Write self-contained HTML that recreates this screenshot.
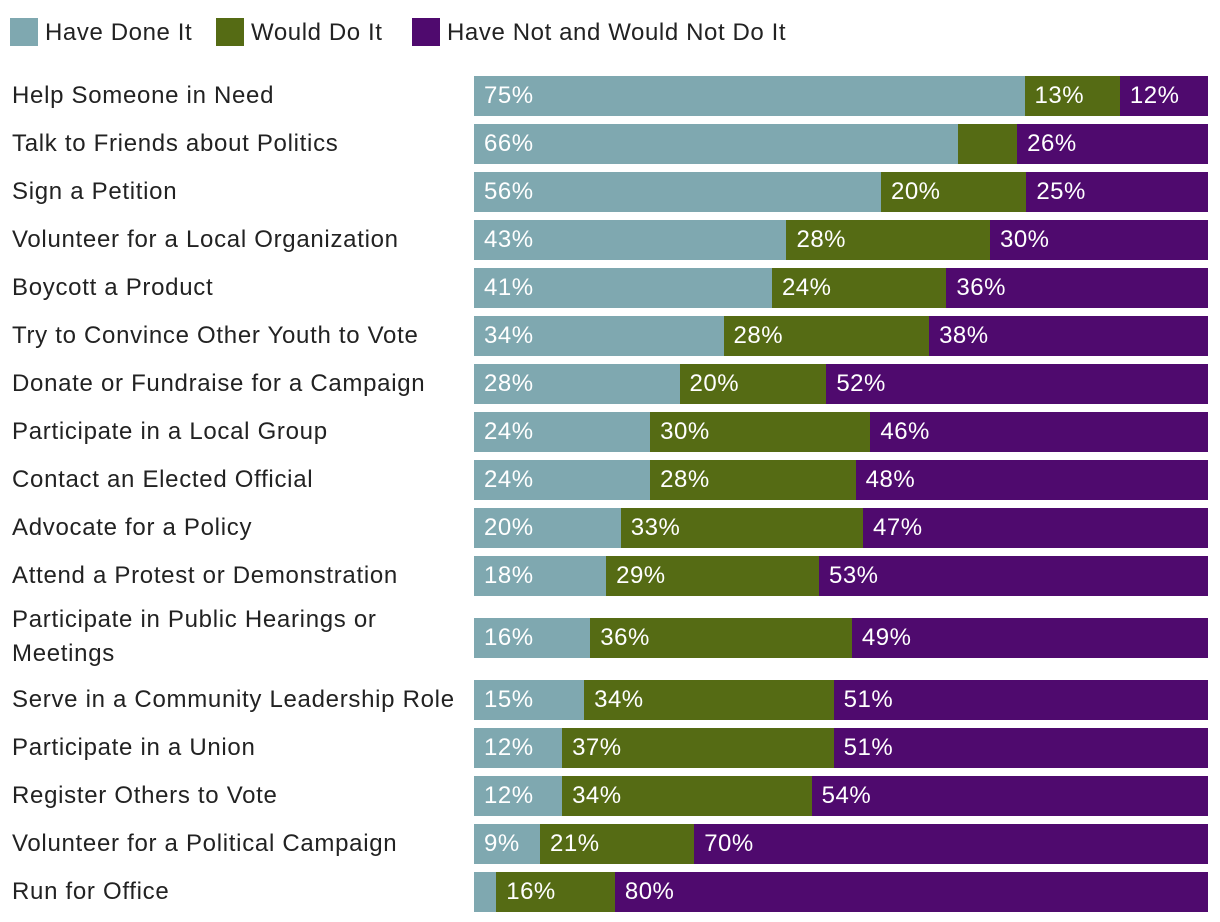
<!DOCTYPE html>
<html><head><meta charset="utf-8">
<style>
body{margin:0;background:#fff;font-family:"Liberation Sans",sans-serif;}
#wrap{position:relative;width:1220px;height:922px;overflow:hidden;}
.leg{position:absolute;top:18px;height:28px;font-size:24px;letter-spacing:0.6px;line-height:30px;color:#222;}
.sw{position:absolute;top:18px;width:28px;height:28px;}
.lab{position:absolute;left:12px;font-size:24px;letter-spacing:0.7px;color:#222;line-height:34px;white-space:nowrap;}
.seg{position:absolute;height:40px;}
.val{position:absolute;color:#fff;font-size:24px;letter-spacing:0.5px;line-height:40px;}
</style></head><body>
<div id="wrap">
<div class="sw" style="left:10px;background:#7fa8b0"></div>
<div class="leg" style="left:45px">Have Done It</div>
<div class="sw" style="left:216px;background:#556b14"></div>
<div class="leg" style="left:251px">Would Do It</div>
<div class="sw" style="left:412px;background:#4f0a6e"></div>
<div class="leg" style="left:447px">Have Not and Would Not Do It</div>
</div>
<script>
const categories=["Help Someone in Need","Talk to Friends about Politics","Sign a Petition","Volunteer for a Local Organization","Boycott a Product","Try to Convince Other Youth to Vote","Donate or Fundraise for a Campaign","Participate in a Local Group","Contact an Elected Official","Advocate for a Policy","Attend a Protest or Demonstration","Participate in Public Hearings or<br>Meetings","Serve in a Community Leadership Role","Participate in a Union","Register Others to Vote","Volunteer for a Political Campaign","Run for Office"];
const haveDone=[75,66,56,43,41,34,28,24,24,20,18,16,15,12,12,9,3];
const wouldDo=[13,8,20,28,24,28,20,30,28,33,29,36,34,37,34,21,16];
const wouldNot=[12,26,25,30,36,38,52,46,48,47,53,49,51,51,54,70,80];
const colors=["#7fa8b0","#556b14","#4f0a6e"];
const names=["have-done","would-do","would-not"];
const wrap=document.getElementById('wrap');
const x0=474,W=734;
function rowTop(i){return 76+i*48+(i>=11?14:0)+(i>=12?14:0);}
categories.forEach((c,i)=>{
  const top=rowTop(i);
  const lab=document.createElement('div');
  lab.className='lab';
  
  
  lab.innerHTML=c;
  const twoLine=c.includes('<br>');
  lab.style.top=(twoLine?top-15:top+3)+'px';
  wrap.appendChild(lab);
  const vals=[haveDone[i],wouldDo[i],wouldNot[i]];
  const sum=vals[0]+vals[1]+vals[2];
  let x=x0;
  vals.forEach((v,k)=>{
    const w=v/sum*W;
    const s=document.createElement('div');
    s.className='seg';
    
    
    s.style.left=x+'px';s.style.top=top+'px';s.style.width=(w+0.5)+'px';s.style.background=colors[k];
    wrap.appendChild(s);
    if(v>8){
      const t=document.createElement('div');
      t.className='val';
      
      
      t.style.left=(x+10)+'px';t.style.top=top+'px';
      t.textContent=v+'%';
      wrap.appendChild(t);
    }
    x+=w;
  });
});
</script>
</body></html>
